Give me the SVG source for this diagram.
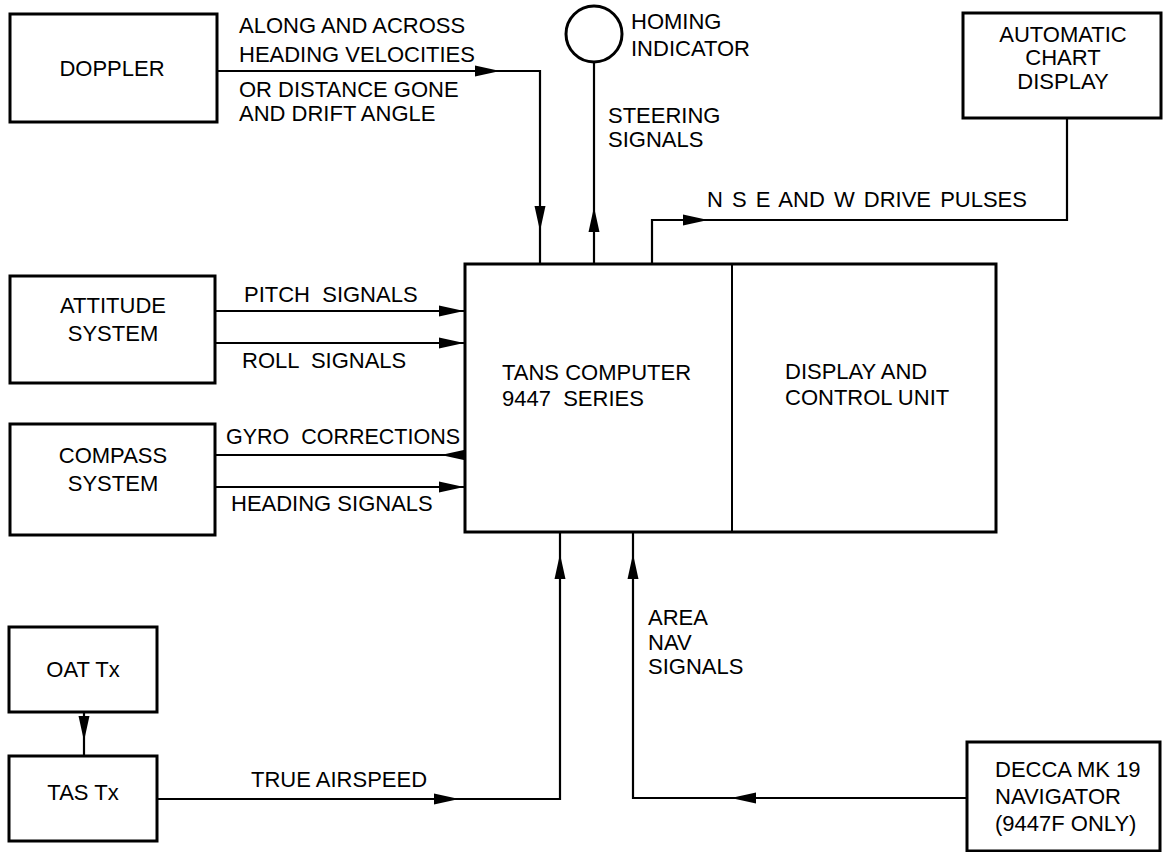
<svg xmlns="http://www.w3.org/2000/svg" xmlns:xlink="http://www.w3.org/1999/xlink" width="1167" height="852" viewBox="0 0 1167 852">
<style>
.box{fill:none;stroke:#000;stroke-width:3}
.ln{fill:none;stroke:#000;stroke-width:2.2}
.div{stroke:#000;stroke-width:2}
text{font-family:"Liberation Sans",Arial,sans-serif;font-size:22px;fill:#000}
.c{text-anchor:middle}
</style>
<defs>
<path id="ah" d="M0,0 L-25,-5.5 L-25,5.5 Z" fill="#000"/>
</defs>
<rect width="1167" height="852" fill="#fff"/>

<g id="connectors">
<path class="ln" d="M217,71 H540 V264"/>
<use xlink:href="#ah" transform="translate(500,71)"/>
<use xlink:href="#ah" transform="translate(540,231) rotate(90)"/>
<path class="ln" d="M594,62 V264"/>
<use xlink:href="#ah" transform="translate(594,207) rotate(-90)"/>
<path class="ln" d="M652,264 V220 H1067 V118"/>
<use xlink:href="#ah" transform="translate(708,220)"/>
<path class="ln" d="M215,311 H465"/>
<use xlink:href="#ah" transform="translate(464,311)"/>
<path class="ln" d="M215,343 H465"/>
<use xlink:href="#ah" transform="translate(464,343)"/>
<path class="ln" d="M215,455 H465"/>
<use xlink:href="#ah" transform="translate(441,455) rotate(180)"/>
<path class="ln" d="M215,487 H465"/>
<use xlink:href="#ah" transform="translate(464,487)"/>
<path class="ln" d="M84,712 V756"/>
<use xlink:href="#ah" transform="translate(84,741) rotate(90)"/>
<path class="ln" d="M157,799 H560 V532"/>
<use xlink:href="#ah" transform="translate(459,799)"/>
<use xlink:href="#ah" transform="translate(560,554) rotate(-90)"/>
<path class="ln" d="M967,798 H633 V532"/>
<use xlink:href="#ah" transform="translate(731,798) rotate(180)"/>
<use xlink:href="#ah" transform="translate(633,554) rotate(-90)"/>
</g>

<g id="labels">
<text x="239" y="33">ALONG AND ACROSS</text>
<text x="239" y="62">HEADING VELOCITIES</text>
<text x="239" y="97">OR DISTANCE GONE</text>
<text x="239" y="121">AND DRIFT ANGLE</text>
<text x="608" y="123">STEERING</text>
<text x="608" y="147">SIGNALS</text>
<text x="707" y="207" word-spacing="3">N S E AND W DRIVE PULSES</text>
<text x="244" y="302" xml:space="preserve">PITCH  SIGNALS</text>
<text x="242" y="368" xml:space="preserve">ROLL  SIGNALS</text>
<text x="226" y="444" xml:space="preserve" textLength="234" lengthAdjust="spacingAndGlyphs">GYRO  CORRECTIONS</text>
<text x="231" y="511">HEADING SIGNALS</text>
<text x="251" y="787">TRUE AIRSPEED</text>
<text x="648" y="625">AREA</text>
<text x="648" y="650">NAV</text>
<text x="648" y="674">SIGNALS</text>
</g>

<g id="doppler">
<rect class="box" x="10" y="14" width="207" height="108"/>
<text class="c" x="112" y="76">DOPPLER</text>
</g>

<g id="homing">
<circle class="box" cx="594" cy="34" r="28"/>
<text x="631" y="29">HOMING</text>
<text x="631" y="56">INDICATOR</text>
</g>

<g id="chart">
<rect class="box" x="963" y="13" width="198" height="105"/>
<text class="c" x="1063" y="42">AUTOMATIC</text>
<text class="c" x="1063" y="65">CHART</text>
<text class="c" x="1063" y="89">DISPLAY</text>
</g>

<g id="tans">
<rect class="box" x="465" y="264" width="531" height="268"/>
<line class="div" x1="732" y1="264" x2="732" y2="532"/>
<text x="502" y="380">TANS COMPUTER</text>
<text x="502" y="406" xml:space="preserve">9447  SERIES</text>
<text x="785" y="379">DISPLAY AND</text>
<text x="785" y="405">CONTROL UNIT</text>
</g>

<g id="attitude">
<rect class="box" x="10" y="276" width="205" height="107"/>
<text class="c" x="113" y="313">ATTITUDE</text>
<text class="c" x="113" y="341">SYSTEM</text>
</g>

<g id="compass">
<rect class="box" x="10" y="424" width="205" height="111"/>
<text class="c" x="113" y="463">COMPASS</text>
<text class="c" x="113" y="491">SYSTEM</text>
</g>

<g id="oat">
<rect class="box" x="9" y="627" width="148" height="85"/>
<text class="c" x="83" y="677">OAT Tx</text>
</g>

<g id="tas">
<rect class="box" x="9" y="756" width="148" height="85"/>
<text class="c" x="83" y="800">TAS Tx</text>
</g>

<g id="decca">
<rect class="box" x="967" y="742" width="193" height="109"/>
<text x="995" y="777">DECCA MK 19</text>
<text x="995" y="804">NAVIGATOR</text>
<text x="995" y="831">(9447F ONLY)</text>
</g>
</svg>
